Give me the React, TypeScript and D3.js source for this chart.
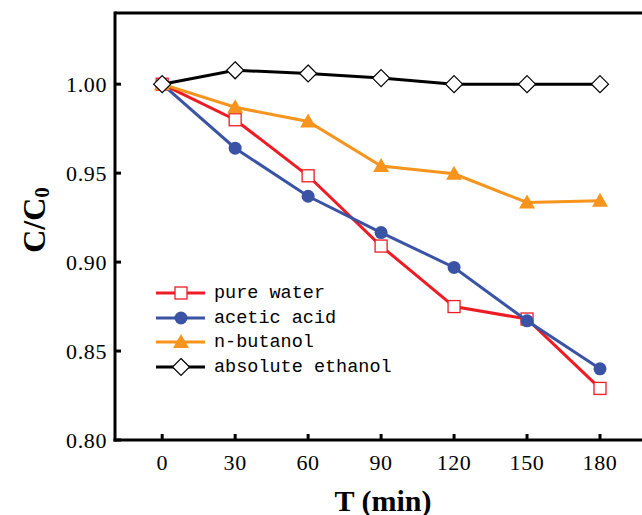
import React from "react";
import * as d3 from "d3";

const times = [0, 30, 60, 90, 120, 150, 180];
const pureWater = [1.0, 0.98, 0.9485, 0.909, 0.875, 0.868, 0.829];
const aceticAcid = [1.0, 0.964, 0.937, 0.9166, 0.897, 0.867, 0.84];
const nButanol = [1.0, 0.987, 0.979, 0.954, 0.9496, 0.9335, 0.9345];
const absEthanol = [1.0, 1.0078, 1.006, 1.0034, 1.0, 1.0, 1.0];
const seriesNames = ["pure water", "acetic acid", "n-butanol", "absolute ethanol"];
const xTicks = [0, 30, 60, 90, 120, 150, 180];
const yTicks = [0.8, 0.85, 0.9, 0.95, 1.0];

const W = 642, H = 515;
const left = 115, top = 13, bottom = 440;
const x = d3.scaleLinear().domain([-19.4, 180]).range([left, 600]);
const y = d3.scaleLinear().domain([0.8, 1.04]).range([bottom, top]);

const series = [
  { name: seriesNames[0], values: pureWater, color: "#ed1c24", marker: "square" },
  { name: seriesNames[1], values: aceticAcid, color: "#3a53a4", marker: "circle" },
  { name: seriesNames[2], values: nButanol, color: "#f7941d", marker: "triangle" },
  { name: seriesNames[3], values: absEthanol, color: "#000000", marker: "diamond" },
];

function Marker({ type, cx, cy, color }: { type: string; cx: number; cy: number; color: string }) {
  if (type === "square")
    return <rect x={cx - 6} y={cy - 6} width={12} height={12} fill="#fff" stroke={color} strokeWidth={1.3} />;
  if (type === "circle") return <circle cx={cx} cy={cy} r={6.5} fill={color} />;
  if (type === "triangle")
    return <path d={`M${cx},${cy - 8} L${cx + 8},${cy + 6} L${cx - 8},${cy + 6} Z`} fill={color} />;
  return (
    <path d={`M${cx},${cy - 8.5} L${cx + 8.5},${cy} L${cx},${cy + 8.5} L${cx - 8.5},${cy} Z`} fill="#fff" stroke={color} strokeWidth={1.2} />
  );
}

export default function App() {
  const line = d3
    .line<number>()
    .x((_, i) => x(times[i]))
    .y((v) => y(v));
  const legendY = [293, 318, 342, 367];
  return (
    <svg width={W} height={H} style={{ position: "absolute", left: 0, top: 0 }}>
      <rect width={W} height={H} fill="#fff" />
      {/* frame */}
      <line x1={left} y1={top} x2={W + 10} y2={top} stroke="#000" strokeWidth={3} />
      <line x1={left} y1={top - 1.5} x2={left} y2={bottom + 1.5} stroke="#000" strokeWidth={3} />
      <line x1={left - 1.5} y1={bottom} x2={W + 10} y2={bottom} stroke="#000" strokeWidth={3} />
      {yTicks.map((t) => (
        <g key={t}>
          <line x1={left} x2={left + 6} y1={y(t)} y2={y(t)} stroke="#000" strokeWidth={3} />
          <text x={107} y={y(t)} textAnchor="end" dominantBaseline="central" fontFamily="Liberation Serif" fontSize={22} letterSpacing={0.6}>
            {t.toFixed(2)}
          </text>
        </g>
      ))}
      {xTicks.map((t) => (
        <g key={t}>
          <line x1={x(t)} x2={x(t)} y1={bottom} y2={bottom - 6} stroke="#000" strokeWidth={3} />
          <text x={x(t)} y={462} textAnchor="middle" dominantBaseline="central" fontFamily="Liberation Serif" fontSize={22} letterSpacing={0.6}>
            {t}
          </text>
        </g>
      ))}
      <text x={383} y={500} textAnchor="middle" dominantBaseline="central" fontFamily="Liberation Serif" fontWeight="bold" fontSize={30}>
        T (min)
      </text>
      <text transform="translate(34,220) rotate(-90)" textAnchor="middle" dominantBaseline="central" fontFamily="Liberation Serif" fontWeight="bold" fontSize={32}>
        C/C<tspan fontSize={21} dy={8}>0</tspan>
      </text>
      {series.map((s) => (
        <g key={s.name}>
          <path d={line(s.values) || ""} fill="none" stroke={s.color} strokeWidth={3} />
          {s.values.map((v, i) => (
            <Marker key={i} type={s.marker} cx={x(times[i])} cy={y(v)} color={s.color} />
          ))}
        </g>
      ))}
      {series.map((s, i) => (
        <g key={"lg" + s.name}>
          <line x1={156} x2={205} y1={legendY[i]} y2={legendY[i]} stroke={s.color} strokeWidth={3} />
          <Marker type={s.marker} cx={181} cy={legendY[i]} color={s.color} />
          <text x={214} y={legendY[i]} dominantBaseline="central" fontFamily="Liberation Mono" fontSize={18.5}>
            {s.name}
          </text>
        </g>
      ))}
    </svg>
  );
}
